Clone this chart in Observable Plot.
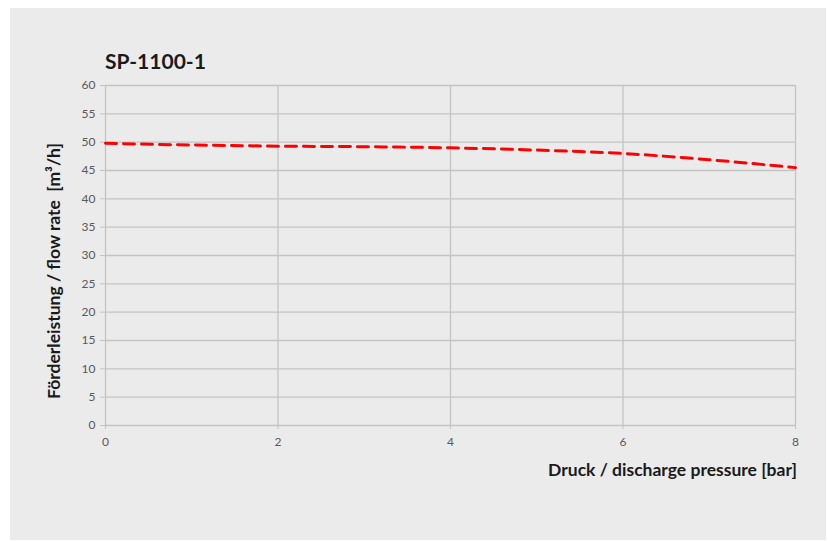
<!DOCTYPE html>
<html>
<head>
<meta charset="utf-8">
<script src="https://cdn.jsdelivr.net/npm/d3@7"></script>
<script src="https://cdn.jsdelivr.net/npm/@observablehq/plot@0.6"></script>
<style>
  html, body { margin: 0; padding: 0; background: #ffffff; }
  #page { position: relative; width: 828px; height: 541px; background: #ffffff; overflow: hidden; font-family: Lato, "Open Sans", sans-serif; }
  #panel { position: absolute; left: 10px; top: 8px; width: 816px; height: 532px; background: #ebebeb; }
  #title { position: absolute; left: 95px; top: 40px; font-weight: bold; font-size: 21px; color: #1a1a1a; }
  #xlabel { position: absolute; right: 29px; top: 451px; font-weight: bold; font-size: 17.5px; color: #1a1a1a; white-space: nowrap; }
  #ylabel { position: absolute; left: 43px; top: 263px; font-weight: bold; font-size: 17.5px; color: #1a1a1a; white-space: nowrap;
            transform: translate(-50%, -50%) rotate(-90deg); }
  #chart { position: absolute; left: 0; top: 0; }
</style>
</head>
<body>
<div id="page">
  <div id="panel">
    <div id="chart"></div>
    <div id="title">SP-1100-1</div>
    <div id="ylabel">Förderleistung / flow rate&nbsp;&nbsp;[m³/h]</div>
    <div id="xlabel">Druck / discharge pressure [bar]</div>
  </div>
</div>
<script>
// Data
const pressure = [0, 1, 2, 3, 4, 5, 6, 7, 8];
const flowRate = [49.8, 49.5, 49.3, 49.2, 49.0, 48.6, 48.0, 46.9, 45.5];
const xTicks = [0, 2, 4, 6, 8];
const yTicks = [0, 5, 10, 15, 20, 25, 30, 35, 40, 45, 50, 55, 60];

const data = pressure.map((p, i) => ({p, q: flowRate[i]}));

const chart = Plot.plot({
  width: 816,
  height: 532,
  marginLeft: 95,
  marginRight: 31,
  marginTop: 77,
  marginBottom: 115,
  style: { background: "transparent", fontFamily: "Lato, 'Open Sans', sans-serif", fontSize: "12px", color: "#595959" },
  x: { domain: [0, 8], ticks: xTicks, label: null },
  y: { domain: [0, 60], ticks: yTicks, label: null },
  marks: [
    Plot.gridY(yTicks, { stroke: "#c4c4c4", strokeOpacity: 1, strokeWidth: 1.3 }),
    Plot.gridX(xTicks, { stroke: "#c4c4c4", strokeOpacity: 1, strokeWidth: 1.3 }),
    Plot.axisX(xTicks, { tickSize: 4, tickPadding: 8, stroke: "#c4c4c4", fill: "#595959", label: null }),
    Plot.axisY(yTicks, { tickSize: 5, tickPadding: 5, stroke: "#c4c4c4", fill: "#595959", label: null }),
    Plot.line(data, { x: "p", y: "q", curve: "monotone-x", stroke: "#ff0000", strokeWidth: 3, strokeDasharray: "11,7" })
  ]
});
document.getElementById("chart").appendChild(chart);
</script>
</body>
</html>
